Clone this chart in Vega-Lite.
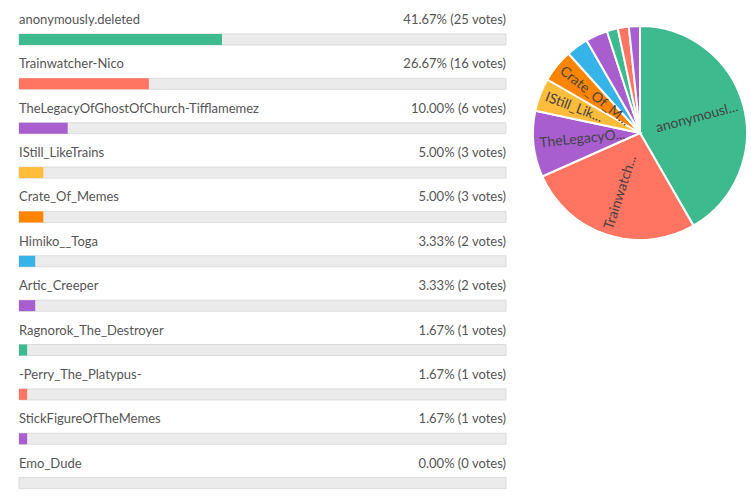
{
  "$schema": "https://vega.github.io/schema/vega-lite/v6.json",
  "padding": {"left": 18, "top": 8, "right": 0, "bottom": 0},
  "background": "white",
  "config": {"view": {"stroke": null}, "font": "Lato"},
  "data": {"values": [
    {"rank": 1, "name": "anonymously.deleted", "votes": 25, "pct": 41.67, "label": "41.67% (25 votes)", "pie": "anonymousl..."},
    {"rank": 2, "name": "Trainwatcher-Nico", "votes": 16, "pct": 26.67, "label": "26.67% (16 votes)", "pie": "Trainwatch..."},
    {"rank": 3, "name": "TheLegacyOfGhostOfChurch-Tifflamemez", "votes": 6, "pct": 10.0, "label": "10.00% (6 votes)", "pie": "TheLegacyO..."},
    {"rank": 4, "name": "IStill_LikeTrains", "votes": 3, "pct": 5.0, "label": "5.00% (3 votes)", "pie": "IStill_Lik..."},
    {"rank": 5, "name": "Crate_Of_Memes", "votes": 3, "pct": 5.0, "label": "5.00% (3 votes)", "pie": "Crate_Of_M..."},
    {"rank": 6, "name": "Himiko__Toga", "votes": 2, "pct": 3.33, "label": "3.33% (2 votes)", "pie": ""},
    {"rank": 7, "name": "Artic_Creeper", "votes": 2, "pct": 3.33, "label": "3.33% (2 votes)", "pie": ""},
    {"rank": 8, "name": "Ragnorok_The_Destroyer", "votes": 1, "pct": 1.67, "label": "1.67% (1 votes)", "pie": ""},
    {"rank": 9, "name": "-Perry_The_Platypus-", "votes": 1, "pct": 1.67, "label": "1.67% (1 votes)", "pie": ""},
    {"rank": 10, "name": "StickFigureOfTheMemes", "votes": 1, "pct": 1.67, "label": "1.67% (1 votes)", "pie": ""},
    {"rank": 11, "name": "Emo_Dude", "votes": 0, "pct": 0, "label": "0.00% (0 votes)", "pie": ""}
  ]},
  "spacing": 22,
  "hconcat": [
    {
      "width": 487,
      "height": 488,
      "encoding": {
        "y": {"field": "name", "type": "nominal", "sort": null, "axis": null, "scale": {"paddingInner": 0, "paddingOuter": 0}}
      },
      "layer": [
        {
          "mark": {"type": "bar", "height": 11, "yOffset": 9.3, "fill": "#ebebeb", "stroke": "#dcdcdc", "strokeWidth": 1},
          "encoding": {
            "x": {"datum": 0, "type": "quantitative", "scale": {"domain": [0, 100]}, "axis": null},
            "x2": {"datum": 100}
          }
        },
        {
          "mark": {"type": "bar", "height": 11, "yOffset": 9.3},
          "encoding": {
            "x": {"field": "pct", "type": "quantitative", "scale": {"domain": [0, 100]}, "axis": null},
            "color": {"field": "name", "type": "nominal", "sort": null, "legend": null,
              "scale": {"range": ["#3dbb8f", "#ff7562", "#a95ed0", "#ffbd3b", "#ff8400", "#36b3e8", "#a95ed0", "#3dbb8f", "#ff7562", "#a95ed0", "#3dbb8f"]}}
          }
        },
        {
          "mark": {"type": "text", "align": "left", "baseline": "middle", "fontSize": 13, "fill": "#555555"},
          "encoding": {
            "y": {"field": "name", "type": "nominal", "sort": null, "bandPosition": 0.27},
            "x": {"datum": 0, "type": "quantitative"},
            "text": {"field": "name"}
          }
        },
        {
          "mark": {"type": "text", "align": "right", "baseline": "middle", "fontSize": 13, "fill": "#555555"},
          "encoding": {
            "y": {"field": "name", "type": "nominal", "sort": null, "bandPosition": 0.27},
            "x": {"datum": 100, "type": "quantitative"},
            "text": {"field": "label"}
          }
        }
      ]
    },
    {
      "width": 214,
      "height": 250,
      "layer": [
        {
          "mark": {"type": "arc", "stroke": "white", "strokeWidth": 2},
          "encoding": {
            "theta": {"field": "votes", "type": "quantitative", "stack": true},
            "order": {"field": "rank", "type": "quantitative"},
            "color": {"field": "name", "type": "nominal", "sort": null, "legend": null}
          }
        },
        {
          "mark": {"type": "text", "radius": 101, "fontSize": 14, "fill": "#444444", "baseline": "middle",
            "angle": {"expr": "(datum.votes_start + datum.votes_end) * 3 < 180 ? (datum.votes_start + datum.votes_end) * 3 - 90 : (datum.votes_start + datum.votes_end) * 3 + 90"},
            "align": {"expr": "(datum.votes_start + datum.votes_end) * 3 < 180 ? 'right' : 'left'"}},
          "encoding": {
            "theta": {"field": "votes", "type": "quantitative", "stack": true},
            "order": {"field": "rank", "type": "quantitative"},
            "detail": {"field": "name", "type": "nominal"},
            "text": {"field": "pie"}
          }
        }
      ]
    }
  ]
}
